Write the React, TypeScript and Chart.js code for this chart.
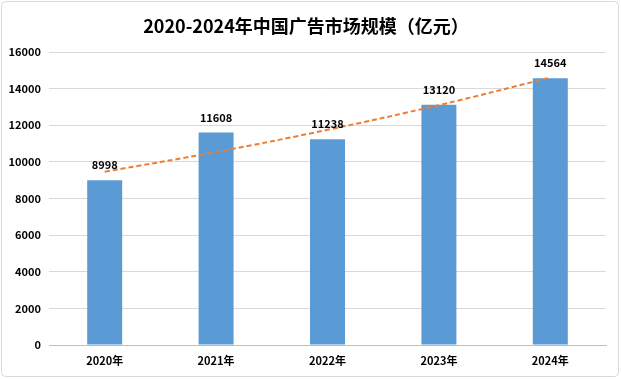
import React, { useEffect, useRef } from "react";
import { Chart, registerables } from "chart.js";

Chart.register(...registerables);

const TITLE = "2020-2024年中国广告市场规模（亿元）";
const categories = ["2020年", "2021年", "2022年", "2023年", "2024年"];
const marketSize = [8998, 11608, 11238, 13120, 14564];
const trendValues = [9460, 10540, 11750, 13100, 14600];
const yTicks = [0, 2000, 4000, 6000, 8000, 10000, 12000, 14000, 16000];

const FONT = "'Noto Sans CJK SC', 'Noto Sans', sans-serif";

const decorPlugin = {
  id: "decor",
  beforeDraw(chart: any) {
    const { ctx, width, height } = chart;
    ctx.save();
    ctx.fillStyle = "#ffffff";
    ctx.fillRect(0, 0, width, height);
    ctx.strokeStyle = "#d9d9d9";
    ctx.lineWidth = 1;
    const r = 4;
    const x0 = 1.5, y0 = 1.5, x1 = width - 2.5, y1 = height - 2.5;
    ctx.beginPath();
    ctx.moveTo(x0 + r, y0);
    ctx.lineTo(x1 - r, y0);
    ctx.quadraticCurveTo(x1, y0, x1, y0 + r);
    ctx.lineTo(x1, y1 - r);
    ctx.quadraticCurveTo(x1, y1, x1 - r, y1);
    ctx.lineTo(x0 + r, y1);
    ctx.quadraticCurveTo(x0, y1, x0, y1 - r);
    ctx.lineTo(x0, y0 + r);
    ctx.quadraticCurveTo(x0, y0, x0 + r, y0);
    ctx.stroke();
    ctx.fillStyle = "#000000";
    ctx.font = `bold 18px ${FONT}`;
    ctx.textAlign = "center";
    ctx.textBaseline = "middle";
    ctx.fillText(TITLE, 306, 26);
    ctx.restore();
  },
  afterDatasetsDraw(chart: any) {
    const { ctx } = chart;
    const meta = chart.getDatasetMeta(1);
    ctx.save();
    ctx.fillStyle = "#000000";
    ctx.font = `bold 11px ${FONT}`;
    ctx.textAlign = "center";
    ctx.textBaseline = "middle";
    meta.data.forEach((bar: any, i: number) => {
      ctx.fillText(String(marketSize[i]), bar.x, bar.y - 15);
    });
    ctx.restore();
  },
};

export default function App() {
  const ref = useRef<HTMLCanvasElement>(null);
  useEffect(() => {
    document.body.style.margin = "0";
    const chart = new Chart(ref.current!, {
      type: "bar",
      data: {
        labels: categories,
        datasets: [
          {
            type: "line",
            data: trendValues,
            borderColor: "#ED7D31",
            borderWidth: 2,
            borderDash: [5, 3],
            pointRadius: 0,
            fill: false,
            tension: 0.4,
            order: 0,
          } as any,
          {
            type: "bar",
            data: marketSize,
            backgroundColor: "#5B9BD5",
            categoryPercentage: 1,
            barPercentage: 0.314,
            order: 1,
          },
        ],
      },
      options: {
        responsive: false,
        animation: false,
        devicePixelRatio: 1,
        layout: { padding: { left: 0, right: 15, top: 52, bottom: 2 } },
        plugins: { legend: { display: false }, tooltip: { enabled: false }, title: { display: false } },
        scales: {
          x: {
            grid: { display: false, drawTicks: false },
            border: { display: true, color: "#bfbfbf" },
            ticks: { color: "#000", font: { family: FONT, size: 11, weight: "bold" }, padding: 9 },
            afterFit: (s: any) => { s.height = 32; },
          },
          y: {
            min: 0,
            max: 16000,
            afterBuildTicks: (s: any) => { s.ticks = yTicks.map((v) => ({ value: v })); },
            grid: { color: "#d9d9d9", drawTicks: false },
            border: { display: false },
            ticks: {
              color: "#000",
              font: { family: FONT, size: 11, weight: "bold" },
              padding: 8,
              callback: (v: any) => String(v),
            },
            afterFit: (s: any) => { s.width = 49; },
          },
        },
      },
      plugins: [decorPlugin],
    });
    return () => chart.destroy();
  }, []);
  return <canvas ref={ref} width={621} height={379} style={{ display: "block" }} />;
}
